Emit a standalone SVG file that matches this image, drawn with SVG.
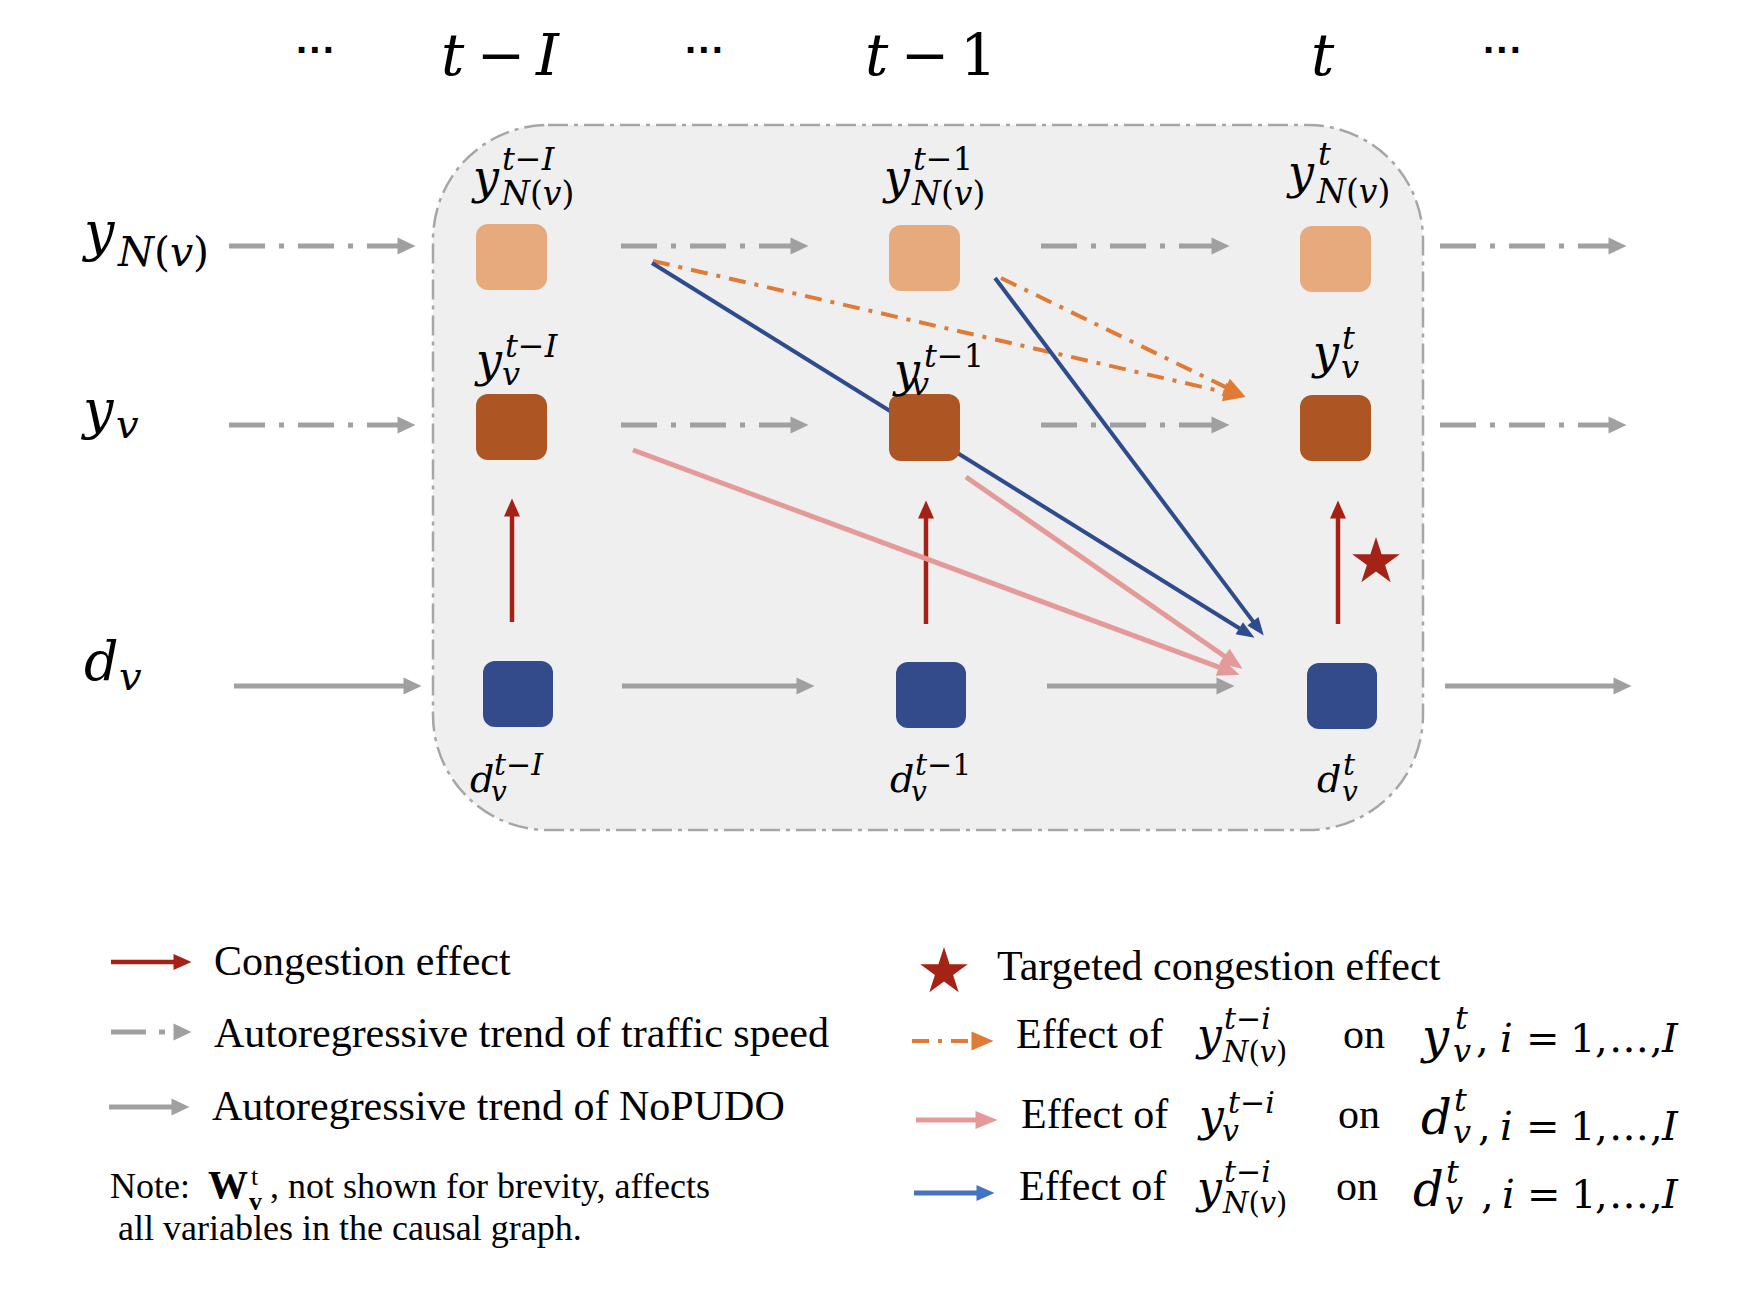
<svg xmlns="http://www.w3.org/2000/svg" width="1750" height="1290" viewBox="0 0 1750 1290">
<style>
.m{font-family:"DejaVu Serif",serif;font-style:italic;fill:#000}
.r{font-style:normal}
.t{font-family:"Liberation Serif","Times New Roman",serif;fill:#000}
.dots{font-family:"Liberation Sans",Arial,sans-serif;font-weight:bold;font-size:40px;text-anchor:middle;fill:#000}
.g{stroke:#A0A0A0;stroke-width:5;fill:none}
.gd{stroke-dasharray:36 14 5 14}
.red{stroke:#A52015;stroke-width:4.5;fill:none}
.or{stroke:#E07A34;stroke-width:4;fill:none;stroke-dasharray:17 9 4 9}
.pk{stroke:#E39A98;stroke-width:5;fill:none}
.bl{stroke:#2E4B8D;stroke-width:4;fill:none}
.lb{stroke:#4472C4;stroke-width:5;fill:none}
.nN{fill:#E6AA7C}
.nV{fill:#AD5523}
.nD{fill:#344B8B}
</style>
<defs>
<marker id="hg" markerUnits="userSpaceOnUse" markerWidth="18" markerHeight="17" refX="0.5" refY="8.5" orient="auto" overflow="visible"><path d="M0,0L18,8.5L0,17z" fill="#A0A0A0"/></marker>
<marker id="hr" markerUnits="userSpaceOnUse" markerWidth="18" markerHeight="16" refX="0.5" refY="8" orient="auto" overflow="visible"><path d="M0,0L18,8L0,16z" fill="#A52015"/></marker>
<marker id="ho" markerUnits="userSpaceOnUse" markerWidth="22" markerHeight="19" refX="0.5" refY="9.5" orient="auto" overflow="visible"><path d="M0,0L22,9.5L0,19z" fill="#E07A34"/></marker>
<marker id="hp" markerUnits="userSpaceOnUse" markerWidth="22" markerHeight="18" refX="0.5" refY="9" orient="auto" overflow="visible"><path d="M0,0L22,9L0,18z" fill="#E39A98"/></marker>
<marker id="hb" markerUnits="userSpaceOnUse" markerWidth="18" markerHeight="14" refX="0.5" refY="7" orient="auto" overflow="visible"><path d="M0,0L18,7L0,14z" fill="#2E4B8D"/></marker>
<marker id="hl" markerUnits="userSpaceOnUse" markerWidth="18" markerHeight="16" refX="0.5" refY="8" orient="auto" overflow="visible"><path d="M0,0L18,8L0,16z" fill="#4472C4"/></marker>
<path id="star" d="M0,-25L5.6,-7.7L23.8,-7.7L9.1,2.9L14.7,20.2L0,9.5L-14.7,20.2L-9.1,2.9L-23.8,-7.7L-5.6,-7.7z" fill="#A52216"/>
</defs>
<rect width="1750" height="1290" fill="#FFFFFF"/>

<g id="timeline">
<text class="dots" x="316" y="64">···</text>
<text class="m" x="441" y="75" font-size="58">t</text>
<text class="m r" x="501" y="75" font-size="58" text-anchor="middle">−</text>
<text class="m" x="536" y="75" font-size="58">I</text>
<text class="dots" x="705" y="64">···</text>
<text class="m" x="865" y="75" font-size="58">t</text>
<text class="m r" x="925" y="75" font-size="58" text-anchor="middle">−</text>
<text class="m r" x="960" y="75" font-size="58">1</text>
<text class="m" x="1311" y="75" font-size="58">t</text>
<text class="dots" x="1503" y="64">···</text>
</g>

<g id="row-labels">
<text class="m" x="84" y="250" font-size="54">y</text>
<text class="m" x="118" y="266" font-size="41">N<tspan class="r">(</tspan>v<tspan class="r">)</tspan></text>
<text class="m" x="83" y="428" font-size="54">y</text>
<text class="m" x="116" y="438" font-size="40">v</text>
<text class="m" x="84" y="680" font-size="54">d</text>
<text class="m" x="119" y="690" font-size="40">v</text>
</g>

<rect id="window" x="433" y="125" width="990" height="705" rx="115" ry="115" fill="#EFEFEF" stroke="#A6A6A6" stroke-width="2.5" stroke-dasharray="20 6 4 6"/>

<g id="connectors">
<line class="g gd" x1="229" y1="246" x2="398" y2="246" marker-end="url(#hg)"/>
<line class="g gd" x1="621" y1="246" x2="791" y2="246" marker-end="url(#hg)"/>
<line class="g gd" x1="1041" y1="246" x2="1212" y2="246" marker-end="url(#hg)"/>
<line class="g gd" x1="1440" y1="246" x2="1609" y2="246" marker-end="url(#hg)"/>
<line class="g gd" x1="229" y1="425" x2="398" y2="425" marker-end="url(#hg)"/>
<line class="g gd" x1="621" y1="425" x2="791" y2="425" marker-end="url(#hg)"/>
<line class="g gd" x1="1041" y1="425" x2="1212" y2="425" marker-end="url(#hg)"/>
<line class="g gd" x1="1440" y1="425" x2="1609" y2="425" marker-end="url(#hg)"/>
<line class="g" x1="234" y1="686" x2="404" y2="686" marker-end="url(#hg)"/>
<line class="g" x1="622" y1="686" x2="797" y2="686" marker-end="url(#hg)"/>
<line class="g" x1="1047" y1="686" x2="1217" y2="686" marker-end="url(#hg)"/>
<line class="g" x1="1445" y1="686" x2="1614" y2="686" marker-end="url(#hg)"/>
<line class="red" x1="512" y1="622" x2="512" y2="516" marker-end="url(#hr)"/>
<line class="red" x1="926" y1="624" x2="926" y2="518" marker-end="url(#hr)"/>
<line class="red" x1="1338" y1="624" x2="1338" y2="518" marker-end="url(#hr)"/>
<line class="or" x1="653" y1="261" x2="1224.6" y2="392.1" marker-end="url(#ho)"/>
<line class="or" x1="1001" y1="278" x2="1226.2" y2="387.4" marker-end="url(#ho)"/>
<line class="bl" x1="652" y1="263" x2="1239.7" y2="628.5" marker-end="url(#hb)"/>
<line class="bl" x1="995" y1="278" x2="1253.2" y2="621.6" marker-end="url(#hb)"/>
<line class="pk" x1="633" y1="450" x2="1219.4" y2="667.4" marker-end="url(#hp)"/>
<line class="pk" x1="966" y1="477" x2="1224.9" y2="656.5" marker-end="url(#hp)"/>
</g>

<g id="node-yN-tI">
<rect class="nN" x="476" y="224" width="71" height="66" rx="12"/>
<text class="m" x="473" y="193" font-size="46">y</text>
<text class="m" x="502" y="170" font-size="32">t−I</text>
<text class="m" x="501" y="205" font-size="33">N<tspan class="r">(</tspan>v<tspan class="r">)</tspan></text>
</g>
<g id="node-yN-t1">
<rect class="nN" x="889" y="225" width="71" height="66" rx="12"/>
<text class="m" x="884" y="193" font-size="46">y</text>
<text class="m" x="913" y="170" font-size="32">t−<tspan class="r">1</tspan></text>
<text class="m" x="912" y="205" font-size="33">N<tspan class="r">(</tspan>v<tspan class="r">)</tspan></text>
</g>
<g id="node-yN-t">
<rect class="nN" x="1300" y="226" width="71" height="66" rx="12"/>
<text class="m" x="1288" y="188" font-size="46">y</text>
<text class="m" x="1318" y="165" font-size="32">t</text>
<text class="m" x="1317" y="203" font-size="33">N<tspan class="r">(</tspan>v<tspan class="r">)</tspan></text>
</g>
<g id="node-yv-tI">
<rect class="nV" x="476" y="394" width="71" height="66" rx="12"/>
<text class="m" x="476" y="376" font-size="46">y</text>
<text class="m" x="505" y="357" font-size="32">t−I</text>
<text class="m" x="502" y="385" font-size="32">v</text>
</g>
<g id="node-yv-t1">
<rect class="nV" x="889" y="394" width="71" height="67" rx="12"/>
<text class="m" x="894" y="386" font-size="46">y</text>
<text class="m" x="924" y="367" font-size="32">t−<tspan class="r">1</tspan></text>
<text class="m" x="911" y="395" font-size="32">v</text>
</g>
<g id="node-yv-t">
<rect class="nV" x="1300" y="395" width="71" height="66" rx="12"/>
<text class="m" x="1313" y="368" font-size="46">y</text>
<text class="m" x="1342" y="349" font-size="32">t</text>
<text class="m" x="1341" y="378" font-size="32">v</text>
</g>
<g id="node-d-tI">
<rect class="nD" x="483" y="661" width="70" height="66" rx="12"/>
<text class="m" x="470" y="792" font-size="38">d</text>
<text class="m" x="494" y="775" font-size="30">t−I</text>
<text class="m" x="491" y="801" font-size="28">v</text>
</g>
<g id="node-d-t1">
<rect class="nD" x="896" y="662" width="70" height="66" rx="12"/>
<text class="m" x="890" y="792" font-size="38">d</text>
<text class="m" x="915" y="775" font-size="30">t−<tspan class="r">1</tspan></text>
<text class="m" x="911" y="801" font-size="28">v</text>
</g>
<g id="node-d-t">
<rect class="nD" x="1307" y="663" width="70" height="66" rx="12"/>
<text class="m" x="1317" y="792" font-size="38">d</text>
<text class="m" x="1343" y="775" font-size="30">t</text>
<text class="m" x="1342" y="801" font-size="28">v</text>
</g>

<g id="target-star">
<use href="#star" x="1376" y="562"/>
</g>

<g id="legend">
<line class="red" x1="111" y1="962" x2="174" y2="962" marker-end="url(#hr)"/>
<text class="t" x="214" y="975" font-size="42">Congestion effect</text>
<line class="g" x1="111" y1="1032" x2="174" y2="1032" stroke-dasharray="35 13 6 13" marker-end="url(#hg)"/>
<text class="t" x="214" y="1047" font-size="42">Autoregressive trend of traffic speed</text>
<line class="g" x1="109" y1="1107" x2="172" y2="1107" marker-end="url(#hg)"/>
<text class="t" x="212" y="1120" font-size="42">Autoregressive trend of NoPUDO</text>
<text class="t" x="110" y="1198" font-size="36">Note:</text>
<text class="t" x="208" y="1198" font-size="40" font-weight="bold">W</text>
<text class="t" x="251" y="1185" font-size="26">t</text>
<text class="t" x="249" y="1210" font-size="26" font-weight="bold">v</text>
<text class="t" x="270" y="1198" font-size="36">, not shown for brevity, affects</text>
<text class="t" x="118" y="1240" font-size="36">all variables in the causal graph.</text>

<use href="#star" x="944" y="972"/>
<text class="t" x="997" y="980" font-size="42">Targeted congestion effect</text>

<line class="or" x1="912" y1="1041" x2="972" y2="1041" stroke-width="5" stroke-dasharray="22 9 5 9" marker-end="url(#ho)"/>
<text class="t" x="1016" y="1048" font-size="42">Effect of</text>
<text class="m" x="1197" y="1050" font-size="44">y</text>
<text class="m" x="1224" y="1029" font-size="30">t−i</text>
<text class="m" x="1223" y="1062" font-size="29">N<tspan class="r">(</tspan>v<tspan class="r">)</tspan></text>
<text class="t" x="1343" y="1048" font-size="42">on</text>
<text class="m" x="1422" y="1053" font-size="48">y</text>
<text class="m" x="1455" y="1029" font-size="32">t</text>
<text class="m" x="1453" y="1062" font-size="32">v</text>
<text class="m" y="1052" font-size="40"><tspan class="r" x="1476">,</tspan><tspan x="1500">i</tspan><tspan class="r" x="1526">=</tspan><tspan class="r" x="1570">1</tspan><tspan class="r" x="1595">,</tspan><tspan class="r" x="1609">…</tspan><tspan class="r" x="1650">,</tspan><tspan x="1662">I</tspan></text>

<line class="pk" x1="916" y1="1120" x2="976" y2="1120" marker-end="url(#hp)"/>
<text class="t" x="1021" y="1128" font-size="42">Effect of</text>
<text class="m" x="1199" y="1131" font-size="44">y</text>
<text class="m" x="1228" y="1113" font-size="30">t−i</text>
<text class="m" x="1222" y="1141" font-size="30">v</text>
<text class="t" x="1338" y="1128" font-size="42">on</text>
<text class="m" x="1421" y="1134" font-size="48">d</text>
<text class="m" x="1454" y="1111" font-size="32">t</text>
<text class="m" x="1453" y="1143" font-size="32">v</text>
<text class="m" y="1140" font-size="40"><tspan class="r" x="1478">,</tspan><tspan x="1500">i</tspan><tspan class="r" x="1526">=</tspan><tspan class="r" x="1570">1</tspan><tspan class="r" x="1595">,</tspan><tspan class="r" x="1609">…</tspan><tspan class="r" x="1650">,</tspan><tspan x="1662">I</tspan></text>

<line class="lb" x1="914" y1="1193" x2="977" y2="1193" marker-end="url(#hl)"/>
<text class="t" x="1019" y="1200" font-size="42">Effect of</text>
<text class="m" x="1197" y="1203" font-size="44">y</text>
<text class="m" x="1224" y="1182" font-size="30">t−i</text>
<text class="m" x="1223" y="1213" font-size="29">N<tspan class="r">(</tspan>v<tspan class="r">)</tspan></text>
<text class="t" x="1336" y="1200" font-size="42">on</text>
<text class="m" x="1413" y="1206" font-size="48">d</text>
<text class="m" x="1446" y="1183" font-size="32">t</text>
<text class="m" x="1445" y="1214" font-size="32">v</text>
<text class="m" y="1208" font-size="40"><tspan class="r" x="1481">,</tspan><tspan x="1502">i</tspan><tspan class="r" x="1527">=</tspan><tspan class="r" x="1571">1</tspan><tspan class="r" x="1595">,</tspan><tspan class="r" x="1609">…</tspan><tspan class="r" x="1650">,</tspan><tspan x="1662">I</tspan></text>
</g>
</svg>
